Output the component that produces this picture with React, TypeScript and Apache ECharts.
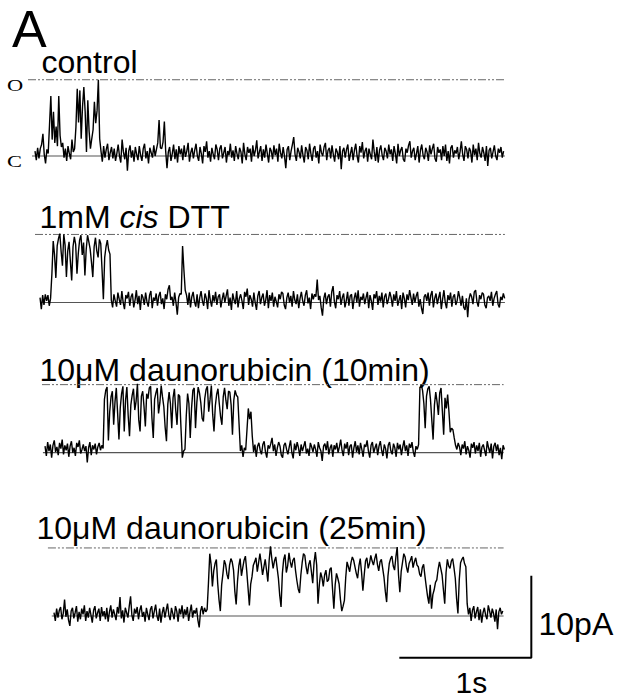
import React, { useEffect, useRef } from "react";
import * as echarts from "echarts";

// sample interval (s) and start time (s) of each sweep
const DT = 0.01;
const traceStart = [0, 0.038, 0.076, 0.144];
const traceLabels = ["control", "1mM cis DTT", "10μM daunorubicin (10min)", "10μM daunorubicin (25min)"];
// open-channel level (pA) per sweep
const openLevel = [9.3, 8.3, 8.3, 8.3];
const openFrom = [-0.053, 0, 0.053, 0.098];
const closedFrom = [-0.023, 0.038, 0.06, 0.127];
const levelTo = [3.56, 3.56, 3.55, 3.55];

// current traces (pA, relative to closed level)
const control = [
  0.6, -0.5, 1.0, -0.3, 0.9, 1.4, 2.7, 0.2, -0.9, 0.8, 0.3, 3.8, 7.3, 2.0, 5.4, 1.6, 3.6, 1.2, 7.3, 2.5,
  1.1, 1.6, -0.2, 0.9, -0.6, 1.2, 0.3, -0.4, 2.0, 0.5, 0.9, 3.5, 8.2, 4.1, 8.0, 2.1, 6.0, 8.4, 5.4, 0.5,
  6.8, 3.0, 0.9, 2.1, 3.2, 6.6, 4.0, 5.5, 9.3, 2.1,
  0.6, -0.7, 1.2, -0.2, 0.8, 1.5, -0.5, 0.4, 1.1, -0.3,
  0.9, -0.6, 0.3, 1.4, 0.0, -0.8, 2.0, 0.5, -0.4, 1.0,
  -1.8, 0.6, 1.3, -0.2, 0.7, -0.7, 1.1, 0.2, -0.5, 1.2,
  0.1, -0.6, 0.9, 1.5, -0.3, 0.6, -0.9, 1.0, 0.4, -0.2,
  1.3, 0.0, 0.8, 1.6, 4.4, 1.0, 0.9, 1.7, 4.2, 0.6,
  -1.5, 0.5, 1.1, -0.6, 0.3, 1.4, -0.4, 0.8, -0.8, 1.2,
  0.2, 0.9, -0.5, 1.3, -0.1, 0.6, 1.6, -0.7, 0.4, 1.0,
  -0.3, 0.7, 1.5, 0.0, -0.6, 1.1, 0.3, -0.9, 1.2, 0.5,
  1.8, -0.2, 0.6, -0.7, 1.0, 0.2, -0.4, 1.4, 0.8, -0.5,
  0.9, 1.3, -0.3, 0.4, 1.1, -0.8, 0.6, 0.1, 1.5, -0.2,
  0.7, -0.6, 1.2, 0.3, -0.4, 1.0, 0.5, -0.9, 1.6, 0.2,
  -0.5, 1.1, 0.4, 0.9, -0.7, 1.3, 0.0, 0.7, 1.9, -0.3,
  0.5, 1.2, -0.6, 0.8, -0.2, 1.4, 0.3, -0.8, 1.0, 0.6,
  -0.4, 1.3, 0.1, 0.9, -0.7, 1.5, 0.4, -0.3, 1.1, 0.0,
  -1.5, 0.8, 1.2, -0.5, 0.6, 1.4, 2.3, 0.2, -0.6, 1.0,
  0.5, -0.3, 1.3, 0.1, -0.8, 1.1, 0.7, -0.4, 1.5, 0.3,
  -0.6, 0.9, 1.2, -0.2, 0.6, -0.9, 1.4, 0.4, 0.0, 1.1,
  1.6, -0.5, 0.7, 1.0, -0.3, 1.3, 0.2, -0.7, 0.9, 0.5,
  -0.4, 1.2, -1.6, 0.6, 1.0, -0.2, 0.8, 1.4, -0.6, 0.3,
  1.1, -0.5, 0.7, 1.5, 0.0, -0.8, 1.2, 0.4, 1.7, -0.3,
  0.6, 1.0, -0.7, 0.9, 0.2, -0.4, 2.0, 0.5, -0.6, 1.1,
  -0.8, 0.7, 1.3, 0.1, -0.5, 1.0, 0.6, -0.3, 1.4, 0.2,
  0.8, -0.6, 1.2, 0.3, -0.9, 1.5, 0.0, 0.7, 1.1, -0.4,
  -0.7, 0.9, 0.4, 1.3, 1.8, -0.2, 0.6, 1.0, -0.5, 0.3,
  1.2, -0.8, 0.7, 1.4, 0.1, -0.4, 1.0, 0.5, -0.6, 1.3,
  0.2, 0.9, 1.5, -0.3, -0.7, 1.1, 0.4, 0.8, -0.5, 1.2,
  0.0, 1.4, -0.6, 0.6, -0.9, 1.0, 1.3, -0.2, 0.7, 0.3,
  1.1, -0.4, 0.5, 1.8, 0.2, -0.6, 1.2, 0.8, -0.3, 1.0,
  0.6, -0.8, 1.4, 0.1, 0.9, -0.5, 1.6, 0.3, -0.2, 1.1,
  0.4, -0.6, 1.2, -1.2, 0.7, 1.0, -0.3, 0.5, 1.3, 0.0,
  -0.5, 0.9, 0.4, 1.1, -0.2, 0.6,
];
const dtt = [
  0.6, -0.8, 0.9, -0.3, 1.0, 0.2, 0.9, -0.4, 0.5, 3.5, 7.5, 5.8, 3.0, 6.9, 7.8, 8.4, 6.2, 4.5, 8.3, 7.0,
  3.1, 6.3, 7.4, 5.0, 2.7, 6.8, 8.0, 7.1, 3.5, 6.0, 7.6, 8.2, 5.8, 7.3, 3.3, 6.5, 8.2, 7.4, 6.5, 4.9,
  3.1, 6.8, 7.9, 6.3, 5.5, 7.7, 7.2, 4.0, 0.4, 5.5, 6.8, 7.6, 6.4, 5.9, 0.3, -0.6, 1.0, 0.2, -0.5, 1.2,
  0.4, -0.3, 1.4, 0.0, -0.8, 0.9, 0.5, 1.3, -0.4, 0.7,
  1.1, -0.6, 0.3, 1.5, -0.2, 0.8, -0.9, 1.0, 0.6, -0.3,
  1.2, 0.1, -0.5, 0.9, 1.4, -0.7, 0.6, 0.2, 1.1, -0.4,
  0.8, 1.3, -0.2, 0.5, -0.8, 1.0, 0.4, 1.6, 2.1, 0.3,
  0.7, -0.4, 1.2, 0.0, -1.5, 0.6, 1.1, 1.0, 6.9, 4.0,
  1.5, 0.9, -0.3, 1.2, -0.6, 0.7, 1.3, 0.1, -0.5, 1.0,
  -0.7, 0.6, 1.4, 0.2, -0.4, 1.1, 0.5, -0.8, 1.5, 0.3,
  -0.5, 0.9, 0.1, 1.3, -0.3, 0.7, 1.0, -0.6, 0.4, 1.2,
  0.0, 0.8, 1.6, -0.4, 0.6, -0.9, 1.1, 0.3, -0.2, 1.4,
  -0.6, 0.5, 1.0, 0.2, -0.8, 1.3, 0.7, 1.7, -0.3, 0.9,
  0.4, -0.5, 1.2, 0.0, -0.9, 0.8, 1.4, -0.2, 0.6, 1.1,
  -0.4, 0.3, 1.5, -0.7, 0.9, 0.2, 1.2, -0.5, 0.7, 0.1,
  -0.6, 1.0, 0.4, 1.3, 1.1, -0.3, -0.8, 0.6, 1.2, 0.0,
  0.8, -0.5, 1.4, 0.3, -0.2, 1.0, -0.7, 0.5, 1.3, 0.2,
  -0.4, 0.9, 1.5, -0.1, 0.6, -0.8, 1.1, 0.4, 1.0, 0.7,
  2.8, 0.3, 0.8, -0.6, -1.6, 0.5, 1.2, -0.2, 0.7, 1.0,
  -0.5, 1.3, 2.0, 0.1, -0.7, 0.9, 0.4, 1.4, -0.3, 0.6,
  1.1, -0.6, 0.2, 1.3, -0.4, 0.8, 1.0, -0.8, 0.5, 1.2,
  0.0, 1.5, -0.5, 0.7, 0.3, 1.1, -0.2, 0.6, 1.3, -0.7,
  0.9, 0.2, -0.9, 1.0, 0.5, 1.4, -0.3, 0.8, 0.1, 1.2,
  -0.6, 0.7, 1.1, -0.2, 0.4, 1.3, 0.6, -0.5, 1.0, 0.2,
  1.4, -0.4, 0.3, 0.9, -0.8, 1.2, 0.5, -0.6, 1.0, 0.3,
  1.5, 0.6, -0.3, 1.1, 0.0, 0.8, 1.3, -0.5, 0.4, -0.7,
  -1.4, 0.7, 1.0, 0.2, 1.2, -0.4, 0.9, 1.4, -0.6, 0.5,
  1.1, -0.2, 0.6, 1.3, -0.8, 0.4, 1.5, 0.0, -0.7, 0.9,
  0.3, 1.2, -0.5, 0.7, 1.0, -0.3, 0.2, 1.4, 0.6, -0.4,
  0.8, -0.6, -0.9, 0.5, -1.8, 0.4, 1.1, 0.7, -0.2, 1.3,
  1.5, 0.1, -0.5, 0.9, 0.4, 1.2, 1.0, -0.3, -0.7, 0.6,
  0.8, 0.2, 1.3, -0.4, 0.5, 1.0, 1.4, -0.2, -0.6, 0.7,
  0.3, 1.1, 0.5,
];
const dauno10 = [
  0.8, -0.4, 1.3, 0.2, 1.0, -0.6, 0.9, 1.5, 0.1, 0.7,
  -0.3, 1.2, 0.5, 1.6, -0.2, 0.9, 0.3, 1.1, -0.5, 0.8,
  1.4, 0.0, 0.6, -0.4, 1.2, 0.7, 1.5, -0.1, 0.4, 1.0,
  0.2, 0.8, -1.2, 0.6, 1.3, -0.3, 0.9, 0.4, 1.1, -0.2,
  0.7, 1.2, 0.3, 0.9, 0.5,
  6.5, 7.6, 8.0, 1.5, 5.0, 6.8, 7.5, 3.4, 6.2, 7.9, 4.8, 1.6, 5.5, 7.2, 8.1,
  2.6, 6.4, 8.0, 4.5, 2.0, 5.8, 7.0, 7.8, 5.2, 6.3, 8.4, 4.0, 2.6, 6.9, 7.5, 5.6, 3.2, 7.2, 6.6, 7.9,
  8.1, 4.2, 1.8, 6.5, 7.3, 7.9, 4.8, 6.1, 8.2, 6.8, 5.6, 3.1, 1.4, 5.9, 7.4, 6.0, 3.0, 6.7, 7.8, 5.2,
  3.4, 7.1, 6.9, 3.0, -0.6, 0.2, 0.4, 4.5, 7.2, 6.0, 1.8, 5.4, 7.6, 7.9, 3.0, 6.1, 8.0, 7.3, 6.1, 4.2,
  3.8, 6.6, 7.7, 8.1, 5.0, 6.5, 8.2, 4.7, 2.6, 5.7, 7.1, 7.8, 6.0, 4.4, 3.4, 6.8, 7.9, 6.4, 5.3, 7.5,
  7.4, 5.8, 2.2, 6.4, 7.6, 7.0, 6.8, 3.5,
  0.2, 0.9, -0.5, 0.6, 0.3, 2.8, 5.4, 4.1, 5.0, 2.0, 0.1, 1.0,
  -0.5, 0.8, 1.2, 0.3, -0.2, 1.0, 1.4, 0.1, -0.6, 0.9,
  0.5, 1.1, 1.8, 0.2, 1.0, -0.4, 0.6, 1.3, 0.8, -0.3,
  -0.6, 0.9, 1.2, 0.4, -0.2, 0.7, 1.5, 0.0, -0.7, 1.1,
  0.3, 1.3, 0.6, -0.4, 1.0, 0.2, 0.8, 1.4, -0.1, 0.5,
  -0.4, 1.2, 0.7, 0.1, 1.0, 0.4, -0.5, 1.3, 0.6, 0.2,
  -1.0, 0.8, 1.1, 0.3, 1.4, -0.2, 0.6, 1.0, -0.5, 0.9,
  0.4, 1.2, 0.0, 0.7, 1.6, 0.3, -0.4, 1.1, 0.5, 1.3,
  -0.3, 0.8, 1.0, -0.6, 0.6, 1.4, 0.1, 0.9, -0.2, 1.2,
  0.4, -0.5, 1.0, 0.7, 1.5, 0.2, -0.6, 0.9, 1.3, 0.0,
  0.6, 1.1, -0.3, 0.8, 1.4, 0.3, -0.4, 1.0, 0.5, -0.7,
  0.9, 1.3, 0.2, -0.2, 1.1, 0.6, -0.5, 1.2, 0.4, 1.0,
  -0.3, 0.7, 1.5, 0.2, 0.9, -0.4, 1.1, 0.6, 1.3, 0.1,
  -0.5, 0.8, 0.4, 1.0,
  7.9, 8.3, 7.6, 6.0, 3.0, 6.9, 7.8, 8.1, 6.5, 4.0, 1.6, 5.8, 7.4, 6.2, 4.6, 7.3,
  7.9, 5.1, 2.2, 6.7, 5.4, 7.1, 5.0, 2.5, 3.0, 2.8, 1.8, 0.9,
  0.4, 1.2, 0.7, -0.3, 1.0, 0.5, 1.4, -0.2, 0.8, 0.3,
  -0.6, 1.1, 0.6, 1.3, -0.1, 0.9, 0.2, 1.2, -0.5, 0.7,
  1.0, 0.3, -0.4, 1.4, 0.6, 0.0, 1.1, -0.7, 0.8, 1.2,
  0.2, 1.0, -0.3, 0.6, -0.8, 0.9, 0.4,
];
const dauno25 = [
  0.4, -0.6, 0.9, -0.2, 0.7, 1.1, -0.4, 0.3, 2.0, -0.1,
  0.8, -0.5, -1.2, 0.6, 1.0, -0.3, 0.4, 1.2, -0.7, 0.5,
  -0.4, 0.9, 0.2, 1.3, -0.6, 0.6, -0.2, 1.0, 0.1, -0.8,
  0.7, 1.2, -0.3, 0.4, 0.9, -0.6, 1.1, 0.0, 0.6, -0.4,
  1.0, -0.7, 0.5, 1.3, -0.2, 0.8, 0.2, -0.5, 1.1, 0.3,
  2.3, -0.3, 0.7, -0.8, 1.0, 0.4, -0.2, 1.2, 2.4, 0.1,
  -0.6, 0.9, 0.3, 1.1, -0.4, 0.7, 1.3, -0.1, 0.5, -0.7,
  1.0, 0.2, -0.5, 0.8, 1.2, -0.3, 0.6, 1.4, 0.0, -0.6,
  0.9, -0.8, 0.4, 1.1, -0.2, 0.7, 1.5, 0.1, -0.5, 1.0,
  0.3, -0.4, 1.2, 0.6, -0.7, 0.9, 0.2, 1.3, -0.3, 0.8,
  0.1, 1.1, -0.6, 0.5, 1.4, -0.2, 0.7, 0.3, 1.0, -0.5,
  -1.4, 0.6, 1.2, 0.2, 1.0, 0.5, 0.8,
  4.0, 7.6, 6.3,
  3.6, 5.5, 6.4, 6.9, 4.0, 2.0, 0.6, 3.8, 5.2, 6.8, 6.3, 5.1, 4.5, 6.2, 7.0, 6.6, 5.6, 3.0, 1.4, 4.2,
  6.1, 7.0, 4.9, 5.9, 6.8, 7.3, 5.5, 3.4, 1.3, 3.9, 4.8, 6.2, 6.6, 7.1, 5.4, 6.5, 7.6, 6.4, 5.0, 6.0,
  6.9, 5.6, 4.2, 6.8, 8.5, 7.0, 5.8, 6.7, 7.2, 5.9, 4.6, 2.5, 1.1, 5.2, 6.9, 7.5, 5.3, 6.1, 7.7, 6.6,
  5.9, 6.8, 7.1, 5.5, 4.3, 3.3, 2.8, 5.0, 6.5, 7.6, 7.4, 6.0, 5.1, 6.3, 6.8, 5.4, 4.0, 6.5, 7.8, 6.2,
  1.5, 3.8, 5.3, 4.7, 3.6, 5.0, 5.6, 4.2, 4.4, 5.7, 5.9, 3.3, 0.9, 3.8, 5.2, 4.6, 3.9, 2.0, 0.6, 1.2,
  1.9, 4.7, 6.6, 6.0, 5.4, 6.5, 7.2, 6.8, 6.0, 5.2, 4.6, 6.1, 7.0, 5.3, 3.1, 5.0, 6.7, 7.1, 5.8, 6.4,
  7.4, 6.7, 6.2, 7.0, 7.6, 6.3, 5.5, 6.6, 6.9, 5.8, 4.7, 3.0, 1.7, 4.9, 6.4, 7.0, 7.3, 6.1, 5.6, 7.2,
  8.4, 5.0, 2.9, 5.4, 6.5, 7.6, 7.2, 6.0, 5.3, 6.4, 6.8, 7.3, 5.9, 6.6, 7.1, 6.2, 6.0, 5.1, 4.8, 5.9,
  6.3, 4.9, 3.6, 2.4, 1.5, 3.8, 0.9, 2.6, 3.2, 4.1, 4.4, 5.7, 6.6, 5.8, 5.0, 3.2, 1.5, 5.3, 6.9, 6.1,
  5.8, 6.7, 7.0, 5.9, 4.6, 2.1, 0.3, 4.4, 6.5, 6.9, 7.2, 6.4, 6.0, 1.5,
  0.2, 1.0, -0.6, 0.7, 1.2, -0.3, 0.5, 1.1, -0.5, 0.8,
  -0.8, 0.4, 1.0, 0.1, -0.4, 1.3, 0.6, -0.2, 0.9, 0.3,
  -0.7, 0.8, -1.6, 0.5, 1.0, 0.2, 0.6,
];
const traces = [control, dtt, dauno10, dauno25];

// calibration bar (drawn in the last sweep's units): 1 s horizontal, 10 pA vertical
const scaleBarTime = [2.76, 3.76, 3.76];
const scaleBarCurrent = [-5.1, -5.1, 4.9];

export default function App() {
  const ref = useRef<HTMLDivElement>(null);
  useEffect(() => {
    if (!ref.current) return;
    const chart = echarts.init(ref.current, null, { renderer: "svg" });
    const closedPx = [156, 302.5, 452.7, 616];
    const pxPerPA = 8.2;
    const yMin = -6;
    const yMax = 11;
    const grids = closedPx.map((c) => ({
      left: 21.8,
      width: 528,
      top: c - yMax * pxPerPA,
      height: (yMax - yMin) * pxPerPA,
    }));
    const xAxes = grids.map((_, k) => ({ type: "value", gridIndex: k, min: -0.1, max: 3.9, show: false }));
    const yAxes = grids.map((_, k) => ({ type: "value", gridIndex: k, min: yMin, max: yMax, show: false }));
    const series: any[] = [];
    traces.forEach((vals, k) => {
      series.push({
        type: "line", xAxisIndex: k, yAxisIndex: k, showSymbol: false, silent: true,
        data: [[closedFrom[k], 0], [levelTo[k], 0]],
        lineStyle: { color: "#555", width: 1.2 }, z: 1,
      });
      series.push({
        type: "line", xAxisIndex: k, yAxisIndex: k, showSymbol: false, silent: true,
        data: [[openFrom[k], openLevel[k]], [levelTo[k], openLevel[k]]],
        lineStyle: { color: "#666", width: 1, type: [8, 2, 2, 2, 2, 2] }, z: 1,
      });
      series.push({
        type: "line", xAxisIndex: k, yAxisIndex: k, showSymbol: false, silent: true,
        data: vals.map((v, i) => [traceStart[k] + i * DT, v]),
        lineStyle: { color: "#000", width: 1.4 }, z: 2,
      });
    });
    series.push({
      type: "line", xAxisIndex: 3, yAxisIndex: 3, showSymbol: false, silent: true,
      data: scaleBarTime.map((t, i) => [t, scaleBarCurrent[i]]),
      lineStyle: { color: "#000", width: 2 }, z: 3,
    });
    const sans = "'Liberation Sans', Arial, sans-serif";
    const serif = "'Liberation Serif', 'Times New Roman', serif";
    const labelPos = [
      [41.5, 61.6],
      [39.5, 217.2],
      [39.5, 369.9],
      [36.5, 528.2],
    ];
    const graphic: any[] = [
      { type: "text", x: 12, y: 29, style: { text: "A", font: `52px ${sans}`, fill: "#000", verticalAlign: "middle" } },
      { type: "text", x: 7, y: 86, scaleX: 1.4, style: { text: "O", font: `16px ${serif}`, fill: "#000", verticalAlign: "middle" } },
      { type: "text", x: 7, y: 162, scaleX: 1.4, style: { text: "C", font: `16px ${serif}`, fill: "#000", verticalAlign: "middle" } },
      { type: "text", x: 538.5, y: 623.9, style: { text: "10pA", font: `32px ${sans}`, fill: "#000", verticalAlign: "middle" } },
      { type: "text", x: 455.5, y: 682.5, style: { text: "1s", font: `30px ${sans}`, fill: "#000", verticalAlign: "middle" } },
    ];
    traceLabels.forEach((lab, k) => {
      if (k === 1) {
        graphic.push({
          type: "text", x: labelPos[k][0], y: labelPos[k][1],
          style: {
            text: "{n|1mM }{i|cis}{n| DTT}",
            verticalAlign: "middle",
            rich: {
              n: { font: `32px ${sans}`, fill: "#000" },
              i: { font: `italic 32px ${sans}`, fill: "#000" },
            },
          },
        });
      } else {
        graphic.push({
          type: "text", x: labelPos[k][0], y: labelPos[k][1],
          style: { text: lab, font: `32px ${sans}`, fill: "#000", verticalAlign: "middle" },
        });
      }
    });
    chart.setOption({
      animation: false,
      grid: grids,
      xAxis: xAxes,
      yAxis: yAxes,
      series,
      graphic,
    });
    return () => chart.dispose();
  }, []);
  return (
    <div
      ref={ref}
      style={{ position: "absolute", left: 0, top: 0, width: 618, height: 700, background: "#fff" }}
    />
  );
}
